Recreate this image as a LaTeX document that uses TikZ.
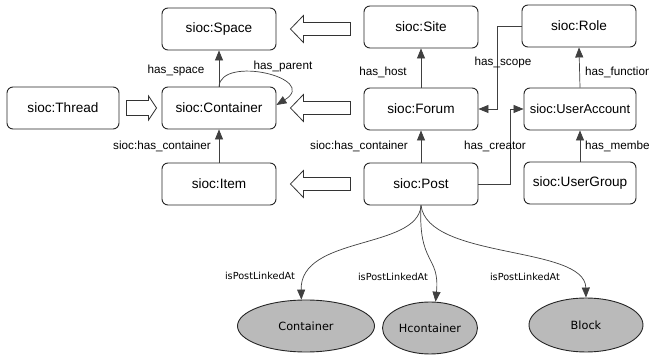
\documentclass[tikz,border=0pt]{standalone}
\usepackage{fontspec}
\setmainfont{Liberation Sans}
\newfontfamily\roundsans{DejaVu Sans}
\usetikzlibrary{arrows.meta,shapes.geometric,calc}

\tikzset{
  cls/.style={draw=black!85, line width=0.9pt, rounded corners=6pt, fill=white,
    minimum width=114pt, minimum height=42pt, inner sep=0pt,
    font=\fontsize{13.6}{16}\selectfont},
  rel/.style={draw=black!75, line width=0.7pt, -{Triangle[length=10pt,width=8pt]}},
  lbl/.style={font=\fontsize{11.7}{14}\selectfont, inner sep=0pt},
  blob/.style={ellipse, draw=black!85, line width=0.9pt, fill=black!27, inner sep=0pt,
    font=\roundsans\fontsize{11.3}{14}\selectfont},
  plbl/.style={font=\roundsans\fontsize{9.7}{12}\selectfont, inner sep=0pt},
  hollow/.style={draw=black!80, line width=0.8pt, fill=white, line join=miter},
  % wide open arrow pointing left, tip at the pic origin
  fatleft/.pic={\draw[hollow] (0,0) -- ++(13,-13.5) -- ++(0,7) -- ++(47,0)
      -- ++(0,13) -- ++(-47,0) -- ++(0,7) -- cycle;},
  % short open arrow pointing right, tip at the pic origin
  fatright/.pic={\draw[hollow] (0,0) -- ++(-8,-12) -- ++(0,4.5) -- ++(-22,0)
      -- ++(0,15) -- ++(22,0) -- ++(0,4.5) -- cycle;}
}

\begin{document}
\begin{tikzpicture}[x=1pt,y=-1pt]
\fill[white] (0,0) rectangle (649,355);
\useasboundingbox (0,0) rectangle (649,355);

% classes
\node[cls] (Space)       at (219,29)  {sioc:Space};
\node[cls] (Site)        at (421,27)  {sioc:Site};
\node[cls] (Role)        at (579,26)  {sioc:Role};
\node[cls, minimum width=112pt] (Thread) at (63,108) {sioc:Thread};
\node[cls] (Container)   at (219,108) {sioc:Container};
\node[cls] (Forum)       at (421,109) {sioc:Forum};
\node[cls, minimum width=112pt, font=\fontsize{12.9}{15}\selectfont] (UserAccount) at (580,109) {sioc:UserAccount};
\node[cls] (Item)        at (219,184) {sioc:Item};
\node[cls] (Post)        at (421,184) {sioc:Post};
\node[cls, minimum width=112pt] (UserGroup) at (580,183) {sioc:UserGroup};

% linked targets
\node[blob, minimum width=137pt, minimum height=52pt] (Cont)  at (306,326) {Container};
\node[blob, minimum width=95pt,  minimum height=52pt] (Hcont) at (430,328) {Hcontainer};
\node[blob, minimum width=114pt, minimum height=54pt] (Block) at (586,325) {Block};

% subclass arrows
\pic at ($(Space.east)+(14,0)$) {fatleft};
\pic at ($(Container.east)+(14,0)$) {fatleft};
\pic at ($(Item.east)+(14,0)$) {fatleft};
\pic at ($(Container.west)+(-5,0)$) {fatright};

% properties
\draw[rel] (Container.north) -- (Space.south);
\draw[rel] (Container.north) .. controls (221,55) and (320,78) .. (Container.3);
\draw[rel] (Forum.north) -- (Site.south);
\draw[rel] (UserAccount.north) -- (Role.south);
\draw[rel] (Role.west) -- ++(-24,0) |- (Forum.east);
\draw[rel] (Item.north) -- (Container.south);
\draw[rel] (Post.north) -- (Forum.north |- Forum.south);
\draw[rel] (Post.east) -- ++(32,0) |- (UserAccount.west);
\draw[rel] (UserGroup.north) -- (UserAccount.south);

\draw[rel] (Post.south) .. controls (418,250) and (300,235) .. (Cont.100);
\draw[rel] (Post.south) .. controls (418,265) and (440,255) .. (Hcont.78);
\draw[rel] (Post.south) .. controls (428,260) and (585,245) .. (Block.north);

% property labels
\node[lbl] (lspace)  at (176,70) {has\_space};
\node[lbl] (lparent) at (283,66) {has\_parent};
\node[lbl] (lhost)   at (383,72) {has\_host};
\node[lbl] (lscope)  at (503,62) {has\_scope};
\node[lbl, anchor=west] (lfunc) at (585,72) {has\_function};
\node[lbl] (lcont1)  at (162,146) {sioc:has\_container};
\node[lbl, anchor=east] (lcont2) at (408,146) {sioc:has\_container};
\node[lbl] (lcreator) at (495,146) {has\_creator};
\node[lbl, anchor=west] (lmember) at (585,146) {has\_member};

\node[plbl] (lk1) at (260,276) {isPostLinkedAt};
\node[plbl] (lk2) at (393,277) {isPostLinkedAt};
\node[plbl] (lk3) at (525,277) {isPostLinkedAt};
\end{tikzpicture}
\end{document}
